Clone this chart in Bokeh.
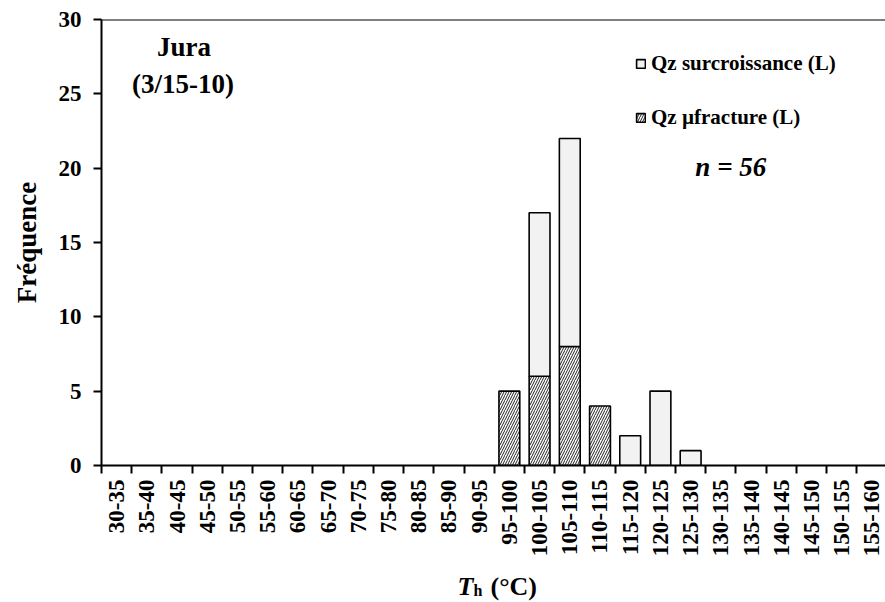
import numpy as np
from bokeh.plotting import figure
from bokeh.layouts import column
from bokeh.models import (Range1d, FixedTicker, Label, Legend, LegendItem, Span,
                          ColumnDataSource)
from bokeh.embed import file_html
from bokeh.resources import INLINE

# ---- data ----
categories = ["30-35", "35-40", "40-45", "45-50", "50-55", "55-60", "60-65",
              "65-70", "70-75", "75-80", "80-85", "85-90", "90-95", "95-100",
              "100-105", "105-110", "110-115", "115-120", "120-125", "125-130",
              "130-135", "135-140", "140-145", "145-150", "150-155", "155-160"]
qz_ufracture = [0, 0, 0, 0, 0, 0, 0, 0, 0, 0, 0, 0, 0, 5,
                6, 8, 4, 0, 0, 0, 0, 0, 0, 0, 0, 0]
qz_surcroissance = [0, 0, 0, 0, 0, 0, 0, 0, 0, 0, 0, 0, 0, 0,
                    11, 14, 0, 2, 5, 1, 0, 0, 0, 0, 0, 0]
y_ticks = [0, 5, 10, 15, 20, 25, 30]

FONT = "Liberation Serif"

centers = [i + 0.5 for i in range(len(categories))]
bounds = list(range(len(categories) + 1))

frac_src = ColumnDataSource(dict(
    x=[c for c, v in zip(centers, qz_ufracture) if v > 0],
    top=[v for v in qz_ufracture if v > 0]))
surc_src = ColumnDataSource(dict(
    x=[c for c, v in zip(centers, qz_surcroissance) if v > 0],
    bottom=[f for f, v in zip(qz_ufracture, qz_surcroissance) if v > 0],
    top=[f + v for f, v in zip(qz_ufracture, qz_surcroissance) if v > 0]))

W, H_MAIN, H_TITLE = 885, 562, 40
p = figure(width=W, height=H_MAIN, output_backend="svg", toolbar_location=None,
           title=None,
           x_range=Range1d(0, 25.95), y_range=Range1d(0, 30),
           min_border_left=101, min_border_right=0, min_border_top=19,
           min_border_bottom=97)
p.outline_line_color = None
p.background_fill_color = "white"
p.border_fill_color = "white"
p.xgrid.visible = False
p.ygrid.visible = False

r_frac = p.vbar(x="x", top="top", bottom=0, width=0.69, source=frac_src,
                fill_color="white", line_color="black", line_width=1.6,
                hatch_pattern="/", hatch_color="#222222", hatch_scale=5,
                hatch_weight=1)
r_surc = p.vbar(x="x", top="top", bottom="bottom", width=0.69, source=surc_src,
                fill_color="#f2f2f2", line_color="black", line_width=1.6)

# top border
p.add_layout(Span(location=30, dimension="width", line_color="black",
                  line_width=2))

# axes styling
xa = p.xaxis[0]
xa.ticker = FixedTicker(ticks=centers, minor_ticks=bounds)
xa.major_label_overrides = {c: lab for c, lab in zip(centers, categories)}
xa.major_label_orientation = np.pi / 2
xa.major_tick_line_color = None
xa.minor_tick_in = 0
xa.minor_tick_out = 8
xa.minor_tick_line_width = 2
xa.minor_tick_line_color = "black"
xa.axis_line_width = 2
xa.axis_line_color = "black"
xa.major_label_text_font = FONT
xa.major_label_text_font_style = "bold"
xa.major_label_text_font_size = "23px"
xa.major_label_text_color = "black"
xa.major_label_standoff = 6

ya = p.yaxis[0]
ya.ticker = FixedTicker(ticks=y_ticks)
ya.minor_tick_line_color = None
ya.major_tick_in = 0
ya.major_tick_out = 8
ya.major_tick_line_width = 2
ya.axis_line_width = 2
ya.major_label_text_font = FONT
ya.major_label_text_font_style = "bold"
ya.major_label_text_font_size = "23px"
ya.major_label_text_color = "black"
ya.major_label_standoff = 12
ya.axis_label = "Fréquence"
ya.axis_label_text_font = FONT
ya.axis_label_text_font_style = "bold"
ya.axis_label_text_font_size = "27px"
ya.axis_label_text_color = "black"
ya.axis_label_standoff = 14


def lab(fig, x, y, text, size, style="bold", align="center", baseline="middle"):
    fig.add_layout(Label(x=x, y=y, text=text, text_font=FONT,
                         text_font_style=style, text_font_size=size,
                         text_align=align, text_baseline=baseline,
                         text_color="black"))

lab(p, 2.73, 28.18, "Jura", "27px")
lab(p, 2.70, 25.69, "(3/15-10)", "27px")
lab(p, 20.83, 20.11, "n = 56", "27px", style="bold italic")

legend = Legend(items=[LegendItem(label="Qz surcroissance (L)", renderers=[r_surc]),
                       LegendItem(label="Qz µfracture (L)", renderers=[r_frac])],
                location=(534, 335), orientation="vertical",
                padding=0, margin=0, spacing=29, label_height=24,
                glyph_width=11, glyph_height=11, label_standoff=5,
                border_line_color=None, background_fill_alpha=0,
                label_text_font=FONT, label_text_font_style="bold",
                label_text_font_size="21px", label_text_color="black")
p.add_layout(legend)

# x-axis title strip (T_h (°C)) below the chart; its x coordinates are
# pixels of the page (frame aligned with the chart's frame)
p2 = figure(width=W, height=H_TITLE, output_backend="svg", toolbar_location=None,
            title=None,
            x_range=Range1d(101, W), y_range=Range1d(0, H_TITLE),
            x_axis_type=None, y_axis_type=None,
            min_border_left=101, min_border_right=0, min_border_top=0,
            min_border_bottom=0)
p2.outline_line_color = None
p2.xgrid.visible = False
p2.ygrid.visible = False
p2.background_fill_color = "white"
p2.border_fill_color = "white"
lab(p2, 457, 16, "T", "26px", style="bold italic", align="left", baseline="alphabetic")
lab(p2, 473, 12, "h", "16px", align="left", baseline="alphabetic")
lab(p2, 490, 16, "(°C)", "26px", align="left", baseline="alphabetic")

layout = column(p, p2, spacing=0)
open("out.html", "w").write(file_html(layout, INLINE))
